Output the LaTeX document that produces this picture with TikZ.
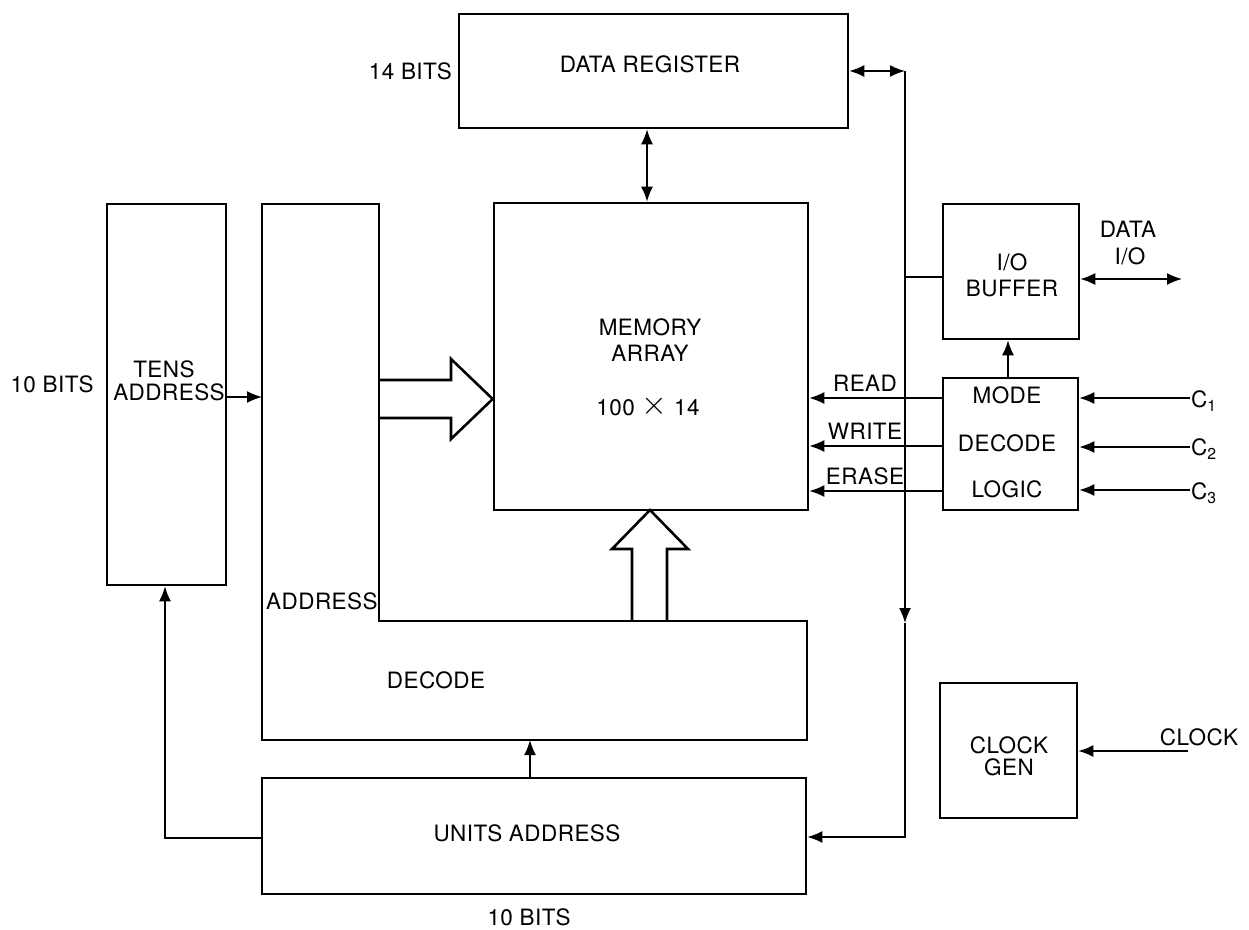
\documentclass[tikz,border=0pt]{standalone}
\usepackage{fontspec}
\setmainfont[LetterSpace=2]{TeX Gyre Heros}
\usetikzlibrary{arrows.meta,calc}
\newcommand{\lblfont}{\fontsize{22.5}{23}\selectfont}
\tikzset{
  blk/.style={draw, line width=2.6pt, inner sep=0pt},
  conn/.style={line width=1.6pt},
  arr/.style={conn, -{Latex[length=15pt,width=12pt]}},
  barr/.style={conn, {Latex[length=15pt,width=12pt]}-{Latex[length=15pt,width=12pt]}},
  lbl/.style={inner sep=0pt, font=\lblfont},
  fat/.style={line width=2.6pt, line join=miter},
}
\begin{document}
\begin{tikzpicture}[x=1pt,y=-1pt]
\useasboundingbox[fill=white] (0,0) rectangle (1249,929);

% blocks
\node[blk, minimum width=389pt, minimum height=114pt] (dreg) at (653.5,71) {};
\node[blk, minimum width=314pt, minimum height=307pt] (mem) at (651,356.5) {};
\node[blk, minimum width=119pt, minimum height=381pt] (tens) at (166.5,394.5) {};
\node[blk, minimum width=544pt, minimum height=116pt] (units) at (534,836) {};
\node[blk, minimum width=136pt, minimum height=135pt] (iobuf) at (1011,271.5) {};
\node[blk, minimum width=135pt, minimum height=132pt] (mdl) at (1010.5,444) {};
\node[blk, minimum width=137pt, minimum height=135pt] (clk) at (1008.5,750.5) {};

% L-shaped address decode
\coordinate (dtl) at (262,204);
\coordinate (dti) at (379,204);
\coordinate (dstep) at (379,621);
\coordinate (dtr) at (807,621);
\coordinate (dbr) at (807,740);
\coordinate (dbl) at (262,740);
\draw[fat] (dtl) -- (dti) -- (dstep) -- (dtr) -- (dbr) -- (dbl) -- cycle;

% wide arrows
\draw[fat] (dstep |- 0,380) -- (451,380) -- (451,359) -- (mem.west |- 0,399) -- (451,439) -- (451,418) -- (dstep |- 0,418);
\draw[fat] (632,621) -- (632,549) -- (612,549) -- (650,510) -- (688,549) -- (667,549) -- (667,621);

% texts
\node[lbl, anchor=east] (t14) at (452,71) {14 BITS};
\node[lbl] (tdreg) at (650,64) {DATA REGISTER};
\node[lbl] (tmem1) at (650,327) {MEMORY};
\node[lbl] (tmem2) at (650,353) {ARRAY};
\node[lbl] (tmem3) at (648,406) {100 \raisebox{0.05em}{\scalebox{1.6}{$\times$}} 14};
\node[lbl] (ttens1) at (164,369) {TENS};
\node[lbl] (ttens2) at (169,392) {ADDRESS};
\node[lbl] (t10a) at (52,384) {10 BITS};
\node[lbl, anchor=west] (tad) at (266,601) {ADDRESS};
\node[lbl] (tdec) at (436,680) {DECODE};
\node[lbl] (tunits) at (527,833) {UNITS ADDRESS};
\node[lbl] (t10b) at (529,917) {10 BITS};
\node[lbl] (tio1) at (1012,262) {I/O};
\node[lbl] (tio2) at (1012,288) {BUFFER};
\node[lbl] (tdio1) at (1128,229) {DATA};
\node[lbl] (tdio2) at (1130,256) {I/O};
\node[lbl] (tmode) at (1007,395) {MODE};
\node[lbl] (tmdec) at (1007,443) {DECODE};
\node[lbl] (tlogic) at (1007,489) {LOGIC};
\node[lbl] (tclk1) at (1009,745) {CLOCK};
\node[lbl] (tclk2) at (1009,767) {GEN};
\node[lbl] (tclkin) at (1199,737) {CLOCK};
\node[lbl] (tread) at (865,383) {READ};
\node[lbl] (twrite) at (865,431) {WRITE};
\node[lbl] (terase) at (865,476) {ERASE};
\node[lbl, anchor=west] (tc1) at (1191,401) {C\textsubscript{1}};
\node[lbl, anchor=west] (tc2) at (1191,449) {C\textsubscript{2}};
\node[lbl, anchor=west] (tc3) at (1191,493) {C\textsubscript{3}};

% bus coordinates
\coordinate (bustop) at (905,71);
\coordinate (busmid) at (905,623);
\coordinate (busbot) at (905,837);
\coordinate (busio) at (905,277);
\coordinate (dio) at (1182,279);
\coordinate (c1in) at (1190,398);
\coordinate (c2in) at (1190,447);
\coordinate (c3in) at (1190,490);
\coordinate (clkin) at (1188,751);
\coordinate (tensturn) at (165,838);

% connectors
\draw[barr] ([xshift=-6.5pt]dreg.south) -- ([xshift=-6.5pt]dreg.south |- mem.north);
\draw[barr] (dreg.east) -- (bustop);
\draw[arr] (bustop) -- (busmid);
\draw[arr] (busmid) -- (busbot) -- (units.east |- busbot);
\draw[conn] (busio) -- (iobuf.west |- busio);
\draw[barr] (iobuf.east |- dio) -- (dio);
\draw[arr] (mdl.north -| 1008,0) -- (iobuf.south -| 1008,0);
\draw[arr] (mdl.west |- 0,398) -- (mem.east |- 0,398);
\draw[arr] (mdl.west |- 0,446) -- (mem.east |- 0,446);
\draw[arr] (mdl.west |- 0,491) -- (mem.east |- 0,491);
\draw[arr] (c1in) -- (mdl.east |- c1in);
\draw[arr] (c2in) -- (mdl.east |- c2in);
\draw[arr] (c3in) -- (mdl.east |- c3in);
\draw[arr] (clkin) -- (clk.east |- clkin);
\draw[arr] (tens.east |- 0,397) -- (dtl |- 0,397);
\draw[arr] (units.north -| 530,0) -- (dbl -| 530,0);
\draw[arr] (units.west |- tensturn) -- (tensturn) -- (tens.south -| tensturn);
\end{tikzpicture}
\end{document}
